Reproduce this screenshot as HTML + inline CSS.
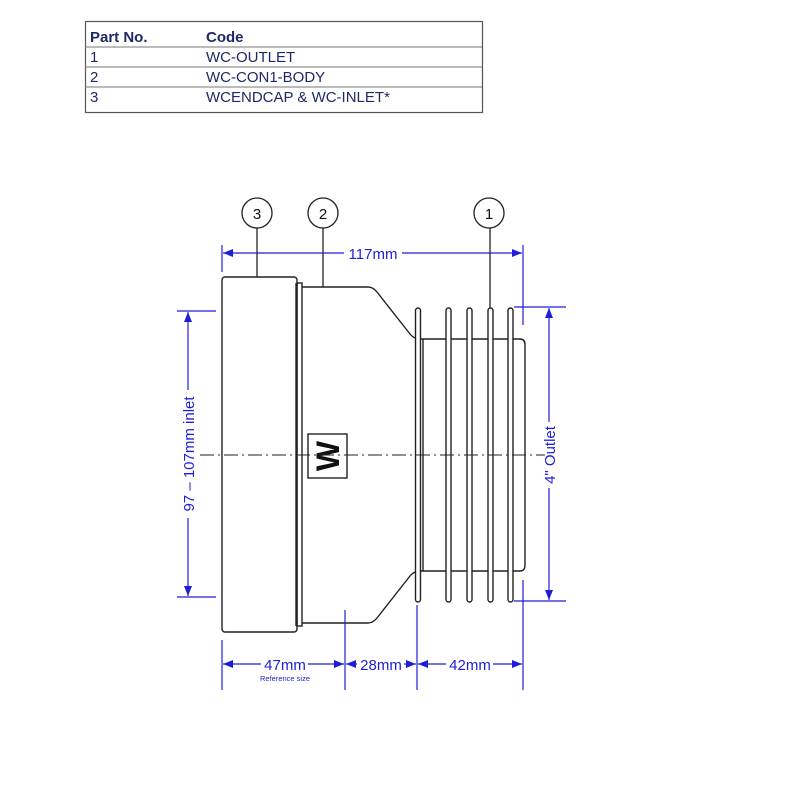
<!DOCTYPE html>
<html><head><meta charset="utf-8"><style>
html,body{margin:0;padding:0;background:#fff;}
svg{display:block;font-family:"Liberation Sans",Arial,sans-serif;}
</style></head><body>
<svg width="800" height="800" viewBox="0 0 800 800" xmlns="http://www.w3.org/2000/svg">
<!-- table -->
<rect x="85.5" y="21.5" width="397" height="91" fill="none" stroke="#555" stroke-width="1.2"/>
<line x1="85" y1="47" x2="482" y2="47" stroke="#777" stroke-width="1"/>
<line x1="85" y1="67" x2="482" y2="67" stroke="#777" stroke-width="1"/>
<line x1="85" y1="87" x2="482" y2="87" stroke="#777" stroke-width="1"/>
<g fill="#1c2a66" font-size="15">
<text x="90" y="42" font-weight="bold">Part No.</text>
<text x="206" y="42" font-weight="bold">Code</text>
<text x="90" y="62">1</text><text x="206" y="62">WC-OUTLET</text>
<text x="90" y="82">2</text><text x="206" y="82">WC-CON1-BODY</text>
<text x="90" y="102">3</text><text x="206" y="102">WCENDCAP &amp; WC-INLET*</text>
</g>
<!-- drawing -->
<g fill="none" stroke="#222" stroke-width="1.4">
<rect x="222" y="277" width="75" height="355" rx="3"/>
<rect x="297" y="283" width="5" height="343"/>
<line x1="296" y1="283" x2="296" y2="626"/>
<path d="M302 287 H368 Q373 287 377 292 L410 334 Q414 339 420 339 M302 623 H368 Q373 623 377 618 L410 576 Q414 571 420 571"/>
<path d="M418 339 H520 Q525 339 525 345 V565 Q525 571 520 571 H418"/>
<line x1="423" y1="339" x2="423" y2="571"/>
<rect x="415.5" y="308" width="5" height="294" rx="2.5" fill="#fff"/>
<rect x="446" y="308" width="5" height="294" rx="2.5" fill="#fff"/>
<rect x="467" y="308" width="5" height="294" rx="2.5" fill="#fff"/>
<rect x="488" y="308" width="5" height="294" rx="2.5" fill="#fff"/>
<rect x="508" y="308" width="5" height="294" rx="2.5" fill="#fff"/>
<rect x="308" y="434" width="39" height="44"/>
</g>
<text x="0" y="0" transform="translate(328 456) rotate(-90)" text-anchor="middle" dominant-baseline="central" font-size="32" font-weight="bold" fill="#111">W</text>
<line x1="200" y1="455" x2="545" y2="455" stroke="#222" stroke-width="1" stroke-dasharray="14,4,2,4"/>
<!-- balloons -->
<g fill="#fff" stroke="#222" stroke-width="1.3">
<line x1="257" y1="228" x2="257" y2="277"/>
<line x1="323" y1="228" x2="323" y2="287"/>
<line x1="490" y1="228" x2="490" y2="308"/>
<circle cx="257" cy="213" r="15"/><circle cx="323" cy="213" r="15"/><circle cx="489" cy="213" r="15"/>
</g>
<g font-size="15" fill="#111" text-anchor="middle">
<text x="257" y="219">3</text><text x="323" y="219">2</text><text x="489" y="219">1</text>
</g>
<!-- dimensions -->
<g stroke="#1e1ed8" stroke-width="1.2" fill="none">
<line x1="222" y1="245" x2="222" y2="272"/>
<line x1="523" y1="245" x2="523" y2="325"/>
<line x1="223" y1="253" x2="344" y2="253"/><line x1="402" y1="253" x2="522" y2="253"/>
<line x1="177" y1="311" x2="216" y2="311"/><line x1="177" y1="597" x2="216" y2="597"/>
<line x1="188" y1="312" x2="188" y2="390"/><line x1="188" y1="518" x2="188" y2="596"/>
<line x1="514" y1="307" x2="566" y2="307"/><line x1="514" y1="601" x2="566" y2="601"/>
<line x1="549" y1="308" x2="549" y2="422"/><line x1="549" y1="488" x2="549" y2="600"/>
<line x1="222" y1="640" x2="222" y2="690"/>
<line x1="345" y1="610" x2="345" y2="690"/>
<line x1="417" y1="605" x2="417" y2="690"/>
<line x1="523" y1="580" x2="523" y2="690"/>
<line x1="223" y1="664" x2="261" y2="664"/><line x1="308" y1="664" x2="344" y2="664"/>
<line x1="346" y1="664" x2="357" y2="664"/><line x1="404" y1="664" x2="416" y2="664"/>
<line x1="418" y1="664" x2="446" y2="664"/><line x1="493" y1="664" x2="522" y2="664"/>
</g>
<g fill="#1e1ed8">
<polygon points="223,253 233,249 233,257"/><polygon points="522,253 512,249 512,257"/>
<polygon points="188,312 184,322 192,322"/><polygon points="188,596 184,586 192,586"/>
<polygon points="549,308 545,318 553,318"/><polygon points="549,600 545,590 553,590"/>
<polygon points="223,664 233,660 233,668"/><polygon points="344,664 334,660 334,668"/>
<polygon points="346,664 356,660 356,668"/><polygon points="416,664 406,660 406,668"/>
<polygon points="418,664 428,660 428,668"/><polygon points="522,664 512,660 512,668"/>
</g>
<g fill="#1e1ed8" font-size="15" text-anchor="middle">
<text x="373" y="259">117mm</text>
<text x="285" y="670">47mm</text>
<text x="381" y="670">28mm</text>
<text x="470" y="670">42mm</text>
<text x="285" y="681" font-size="7.5">Reference size</text>
<text transform="translate(194 454) rotate(-90)">97 – 107mm inlet</text>
<text transform="translate(555 455) rotate(-90)">4" Outlet</text>
</g>
</svg>
</body></html>
